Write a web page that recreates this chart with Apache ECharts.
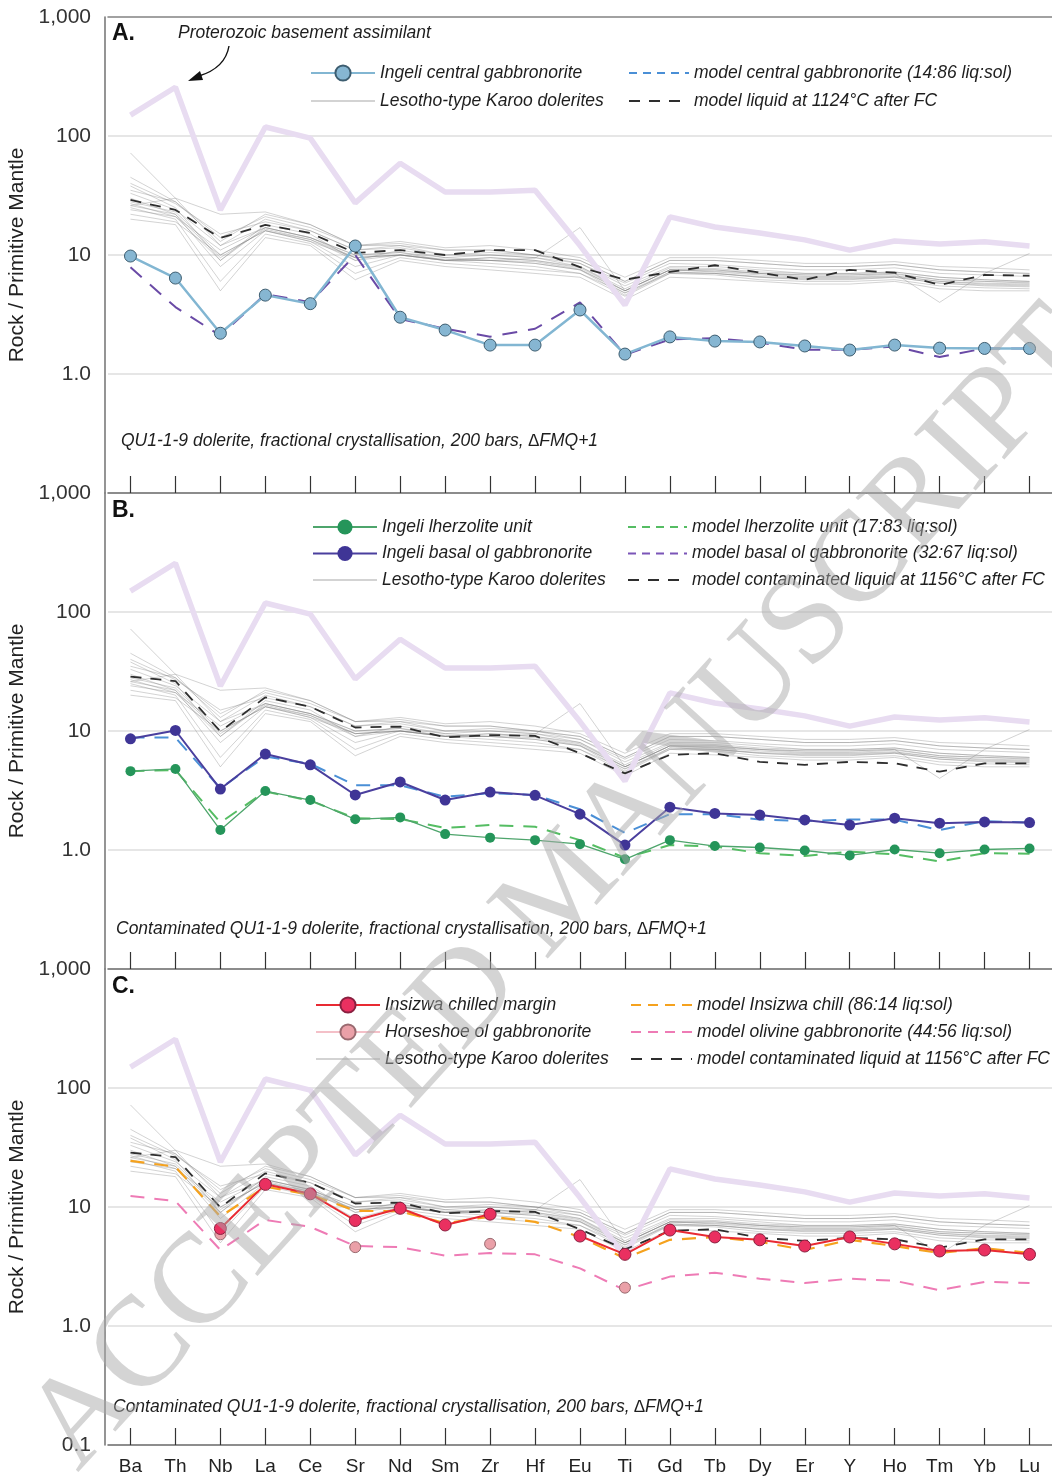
<!DOCTYPE html>
<html><head><meta charset="utf-8">
<script src="https://cdn.jsdelivr.net/npm/echarts@6/dist/echarts.min.js"></script>
<style>html,body{margin:0;padding:0;background:#fff}#c{width:1052px;height:1479px}</style>
</head><body><div id="c"></div>
<script>
// ---------------- DATA ----------------
const categories = ['Ba','Th','Nb','La','Ce','Sr','Nd','Sm','Zr','Hf','Eu','Ti','Gd','Tb','Dy','Er','Y','Ho','Tm','Yb','Lu'];
const yTickLabels = {1000:'1,000', 100:'100', 10:'10', 1:'1.0', 0.1:'0.1'};

// Proterozoic basement assimilant (same in all panels)
const assimilant = [150,257,23.9,119,96,27.4,59,33.8,33.8,35,12,3.8,20.9,17.2,15.3,13.4,11,13.1,12.4,12.9,11.9];

// Lesotho-type Karoo dolerites (thin grey lines, same in all panels)
const karooDolerites = [
  [72,30,12,20,16,11,12,10,10,9.5,8.5,5.5,8,8,7.5,7,7,7.2,6.5,6.2,6],
  [45,28,14,21,17,12,12.5,11,11,10,9,6,9,9,8.5,8,8,8.3,7.5,7.2,7],
  [38,25,9,18,15,9,11,9.5,9,8.5,7.5,5,7.5,7.5,7,6.8,6.8,7,6.2,6,5.8],
  [33,24,12,17,14,10,10.5,9,9.5,9,8,5.2,7.8,7.7,7.2,7,7,7.2,6.5,6.2,6],
  [30,22,8,16,13,8,10,9,8.5,8,7,4.8,7,7,6.5,6.2,6.2,6.5,5.8,5.5,5.4],
  [27,21,11,17,14,10,10.5,9.5,10,9.5,8,5,7.5,7.2,6.8,6.5,6.5,6.7,6,5.8,5.7],
  [25,20,6,15,12.5,7,9.5,8.5,8,7.5,7,4.5,7,6.8,6.2,6,6,6.2,5.5,5.3,5.2],
  [22,19,10,16,13,9.5,10,9,9,8.5,7.5,4.6,7.2,7,6.5,6.3,6.3,6.5,5.8,5.6,5.5],
  [20,18,5,14,12,6.2,9,8,7.5,7,6.5,4.2,6.5,6.3,6,5.7,5.7,6,5.2,5,5],
  [35,28,13,22,18,12,13,11.5,12,11,9.5,6.5,9.5,9.5,9,8.5,8.5,8.8,8,7.8,7.5],
  [28,23,10,16,13.5,9,10,9,9,9.4,17,5,7.5,7.3,7,6.6,6.6,6.9,6.2,6,5.9],
  [24,21,9,17,14,9.5,10,9,9.5,9,7.8,5,7.5,7.5,7,6.8,6.8,7,4,7,10.3],
  [40,27,15,19,16,11,11.5,10,10.5,10,8.5,5.8,8.5,8.3,7.8,7.5,7.5,7.8,7,6.8,6.6],
  [26,22,9.5,16.5,13.5,9.5,10,9.2,9,8.8,7.6,4.8,7.2,7,6.6,6.4,6.4,6.6,6,5.7,5.6],
  [26,30,22,23,18,12,12,11,11,10,9,6,9,9,8.5,8,8,8.3,7.5,7.2,7]
];

// Panel A
const ingeliCentral = [9.8,6.4,2.2,4.6,3.9,11.9,3.0,2.34,1.75,1.75,3.45,1.47,2.05,1.89,1.86,1.72,1.59,1.75,1.65,1.64,1.64];
const modelCentral = [7.9,3.65,2.1,4.7,4.0,10,2.9,2.4,2.06,2.4,4.0,1.45,1.95,2.0,1.84,1.6,1.6,1.7,1.39,1.64,1.64];
const modelLiquid1124 = [29,23.9,13.9,17.9,15.3,10.4,11,10,11,11,7.9,6.2,7.2,8.2,7.1,6.2,7.5,7.1,5.6,6.8,6.7];

// Panel B
const ingeliLherzolite = [4.6,4.8,1.47,3.13,2.63,1.81,1.88,1.36,1.27,1.21,1.12,0.835,1.21,1.08,1.05,0.99,0.9,1.01,0.94,1.01,1.03];
const modelLherzolite = [4.6,4.7,1.7,3.1,2.6,1.85,1.82,1.53,1.62,1.57,1.21,0.86,1.1,1.07,0.94,0.89,0.97,0.92,0.8,0.94,0.93];
const ingeliBasal = [8.6,10.1,3.25,6.4,5.2,2.9,3.73,2.63,3.07,2.88,2.0,1.1,2.29,2.03,1.97,1.79,1.62,1.85,1.68,1.72,1.7];
const modelBasal = [8.8,8.8,3.3,6.1,5.3,3.5,3.5,2.8,3.0,2.9,2.2,1.39,2.0,2.0,1.8,1.75,1.8,1.8,1.47,1.75,1.7];
const modelContaminated1156 = [28.6,26.3,9.9,19.2,16,10.7,10.9,8.85,9.25,9.1,6.5,4.4,6.3,6.5,5.5,5.2,5.5,5.35,4.55,5.35,5.35];

// Panel C
const insizwaChill = [null,null,6.6,15.5,12.9,7.7,9.75,7.06,8.7,null,5.7,4.0,6.4,5.6,5.3,4.7,5.6,4.9,4.27,4.35,4.0];
const horseshoeGabbronorite = [null,null,5.9,null,null,4.6,null,null,4.9,null,null,2.1,null,null,null,null,null,null,null,null,null];
const modelInsizwa = [24.4,21.8,8.3,14.8,12.7,9.3,9.2,7.3,8.3,7.5,5.6,3.7,5.3,5.6,5.1,4.35,5.3,4.7,4.1,4.5,4.1];
const modelOlivineGabbronorite = [12.4,11.2,4.35,7.8,6.8,4.7,4.6,3.9,4.1,4.0,3.05,2.0,2.6,2.8,2.5,2.3,2.5,2.4,2.0,2.35,2.3];

// ---------------- CHART ----------------
const FONT = '"Liberation Sans", Arial, sans-serif';
const chart = echarts.init(document.getElementById('c'), null, {renderer:'canvas'});

const panelTops = [17, 493, 969];
const panelH = 476;

function yLabel(v, showMin){
  for (const k in yTickLabels){
    const kv = Number(k);
    if (Math.abs(v - kv) / kv < 1e-6){
      if (kv === 0.1 && !showMin) return '';
      return yTickLabels[k];
    }
  }
  return '';
}

const grids = panelTops.map(t => ({left:108, right:0, top:t, height:panelH, containLabel:false, outerBoundsMode:'none'}));

const xAxes = [0,1,2].map(i => ({
  type:'category', data:categories, gridIndex:i, boundaryGap:true,
  axisLine:{show:true, onZero:false, lineStyle:{color:'#707070', width:1.6}},
  axisTick:{show:true, inside:true, length:17, alignWithLabel:true, interval:0, lineStyle:{color:'#333', width:1.2}},
  axisLabel:{show:i===2, interval:0, fontSize:19, color:'#222', margin:12, fontFamily:FONT},
  splitLine:{show:false}, z:5
}));
xAxes.push({
  type:'category', data:categories, gridIndex:0, position:'top', boundaryGap:true,
  axisLine:{show:true, onZero:false, lineStyle:{color:'#8a8a8a', width:1.6}},
  axisTick:{show:false}, axisLabel:{show:false}, splitLine:{show:false}
});

const yAxes = [0,1,2].map(i => ({
  type:'log', logBase:10, min:0.1, max:1000, gridIndex:i, offset:3,
  axisLine:{show:true, lineStyle:{color:'#7a7a7a', width:1.6}},
  axisTick:{show:false}, minorTick:{show:false}, minorSplitLine:{show:false},
  axisLabel:{fontSize:21, color:'#333', margin:14, fontFamily:FONT, formatter:v => yLabel(v, i===2)},
  splitLine:{show:true, lineStyle:{color:'#dedede', width:1.6}},
  name:'Rock / Primitive Mantle', nameLocation:'middle', nameGap:72,
  nameTextStyle:{fontSize:21, color:'#222', fontFamily:FONT}
}));

const series = [];
function add(name, data, gi, opt){
  series.push(Object.assign({
    name, type:'line', data, xAxisIndex:gi, yAxisIndex:gi,
    symbol:'none', animation:false, connectNulls:false
  }, opt));
}
const dashStyle = (color, w, t) => ({lineStyle:{color, width:w, type:t}, itemStyle:{color}, z:4});

for (let gi = 0; gi < 3; gi++){
  karooDolerites.forEach(d => add('Lesotho-type Karoo dolerites', d, gi,
    {lineStyle:{color:'rgba(120,120,120,0.33)', width:1}, itemStyle:{color:'#c8c8c8'}, z:1, silent:true}));
  add('Proterozoic basement assimilant', assimilant, gi,
    {lineStyle:{color:'#e8dcf1', width:5.5}, itemStyle:{color:'#e8dcf1'}, z:2, silent:true});
}

// Panel A
add('model liquid at 1124°C after FC', modelLiquid1124, 0, dashStyle('#2e2e2e', 1.8, [11,9]));
add('model central gabbronorite (14:86 liq:sol)', modelCentral, 0, dashStyle('#6a4aa6', 2, [15,11]));
add('Ingeli central gabbronorite', ingeliCentral, 0, {
  symbol:'circle', symbolSize:12, showSymbol:true,
  lineStyle:{color:'#82b6d2', width:2.5},
  itemStyle:{color:'#86b6d2', borderColor:'#3d5d70', borderWidth:1}, z:6
});

// Panel B
add('model contaminated liquid at 1156°C after FC', modelContaminated1156, 1, dashStyle('#2e2e2e', 1.8, [11,9]));
add('model lherzolite unit (17:83 liq:sol)', modelLherzolite, 1, dashStyle('#55bd63', 2, [14,10]));
add('model basal ol gabbronorite (32:67 liq:sol)', modelBasal, 1, dashStyle('#4a8fd6', 2, [14,10]));
add('Ingeli lherzolite unit', ingeliLherzolite, 1, {
  symbol:'circle', symbolSize:10, showSymbol:true,
  lineStyle:{color:'#4ea56c', width:1.3},
  itemStyle:{color:'#25955a'}, z:6
});
add('Ingeli basal ol gabbronorite', ingeliBasal, 1, {
  symbol:'circle', symbolSize:11, showSymbol:true,
  lineStyle:{color:'#4a3f9e', width:2},
  itemStyle:{color:'#3f3596'}, z:6
});

// Panel C
add('model contaminated liquid at 1156°C after FC', modelContaminated1156, 2, dashStyle('#2e2e2e', 1.8, [11,9]));
add('model Insizwa chill (86:14 liq:sol)', modelInsizwa, 2, dashStyle('#f5a21e', 2.2, [14,10]));
add('model olivine gabbronorite (44:56 liq:sol)', modelOlivineGabbronorite, 2, dashStyle('#ee7bb5', 2, [14,10]));
add('Horseshoe ol gabbronorite', horseshoeGabbronorite, 2, {
  symbol:'circle', symbolSize:11, showSymbol:true,
  lineStyle:{color:'#f4c0c8', width:2},
  itemStyle:{color:'#eaa0a8', borderColor:'#9a6a70', borderWidth:1}, z:6
});
add('Insizwa chilled margin', insizwaChill, 2, {
  symbol:'circle', symbolSize:12, showSymbol:true,
  lineStyle:{color:'#e82a33', width:2},
  itemStyle:{color:'#ea3060', borderColor:'#8a2040', borderWidth:1}, z:6
});

// legend entries for series drawn without symbols: hide the legend dot
const noDot = (name, lineStyle) => Object.assign({name, itemStyle:{opacity:0}}, lineStyle ? {lineStyle} : {});

function legend(left, top, width, gap, items){
  return {
    left, top, orient:'vertical', itemWidth:width, itemHeight:19, itemGap:gap,
    selectedMode:false, padding:0,
    textStyle:{fontSize:17.5, fontStyle:'italic', color:'#1e1e1e', fontFamily:FONT},
    data:items
  };
}
const legends = [
  legend(310, 64, 64, 10, ['Ingeli central gabbronorite', noDot('Lesotho-type Karoo dolerites')]),
  legend(628, 64, 60, 10, [
    noDot('model central gabbronorite (14:86 liq:sol)', {color:'#4a8fd6', type:[8,6]}),
    noDot('model liquid at 1124°C after FC')]),
  legend(312, 518, 64, 8.5, ['Ingeli lherzolite unit','Ingeli basal ol gabbronorite', noDot('Lesotho-type Karoo dolerites')]),
  legend(627, 518, 59, 8.5, [
    noDot('model lherzolite unit (17:83 liq:sol)', {type:[8,6]}),
    noDot('model basal ol gabbronorite (32:67 liq:sol)', {color:'#7b55b8', type:[8,6]}),
    noDot('model contaminated liquid at 1156°C after FC')]),
  legend(315, 996, 64, 9, ['Insizwa chilled margin','Horseshoe ol gabbronorite', noDot('Lesotho-type Karoo dolerites')]),
  legend(630, 996, 61, 9, [
    noDot('model Insizwa chill (86:14 liq:sol)', {type:[10,7]}),
    noDot('model olivine gabbronorite (44:56 liq:sol)', {type:[10,7]}),
    noDot('model contaminated liquid at 1156°C after FC')])
];

const txt = (x, y, text, extra) => ({type:'text', x, y, z:50, style:Object.assign({
  text, fontSize:17.5, fontStyle:'italic', fontFamily:FONT, fill:'#1e1e1e', verticalAlign:'middle'
}, extra || {})});

const graphic = [
  txt(112, 34, 'A.', {fontSize:23, fontStyle:'normal', fontWeight:'bold', fill:'#111'}),
  txt(112, 511, 'B.', {fontSize:23, fontStyle:'normal', fontWeight:'bold', fill:'#111'}),
  txt(112, 987, 'C.', {fontSize:23, fontStyle:'normal', fontWeight:'bold', fill:'#111'}),
  txt(178, 33, 'Proterozoic basement assimilant'),
  txt(121, 441, 'QU1-1-9 dolerite, fractional crystallisation, 200 bars, \u2206FMQ+1'),
  txt(116, 929, 'Contaminated QU1-1-9 dolerite, fractional crystallisation, 200 bars, \u2206FMQ+1'),
  txt(113, 1407, 'Contaminated QU1-1-9 dolerite, fractional crystallisation, 200 bars, \u2206FMQ+1'),
  {type:'bezierCurve', z:50, shape:{x1:229, y1:46, cpx1:226, cpy1:64, cpx2:212, cpy2:72, x2:199, y2:76},
   style:{stroke:'#111', lineWidth:1.4, fill:null}},
  {type:'polygon', z:50, shape:{points:[[188,81],[200,71],[203,80]]}, style:{fill:'#111'}},
  {type:'text', x:565, y:890, rotation:0.83, z:100, silent:true,
   style:{text:'ACCEPTED MANUSCRIPT', fontSize:128, fontFamily:'"Liberation Serif", "DejaVu Serif", serif',
     fill:'rgba(170,170,170,0.5)', align:'center', verticalAlign:'middle'}}
];

chart.setOption({
  backgroundColor:'#fff', animation:false,
  textStyle:{fontFamily:FONT},
  grid:grids, xAxis:xAxes, yAxis:yAxes, legend:legends, series, graphic
});
</script></body></html>
